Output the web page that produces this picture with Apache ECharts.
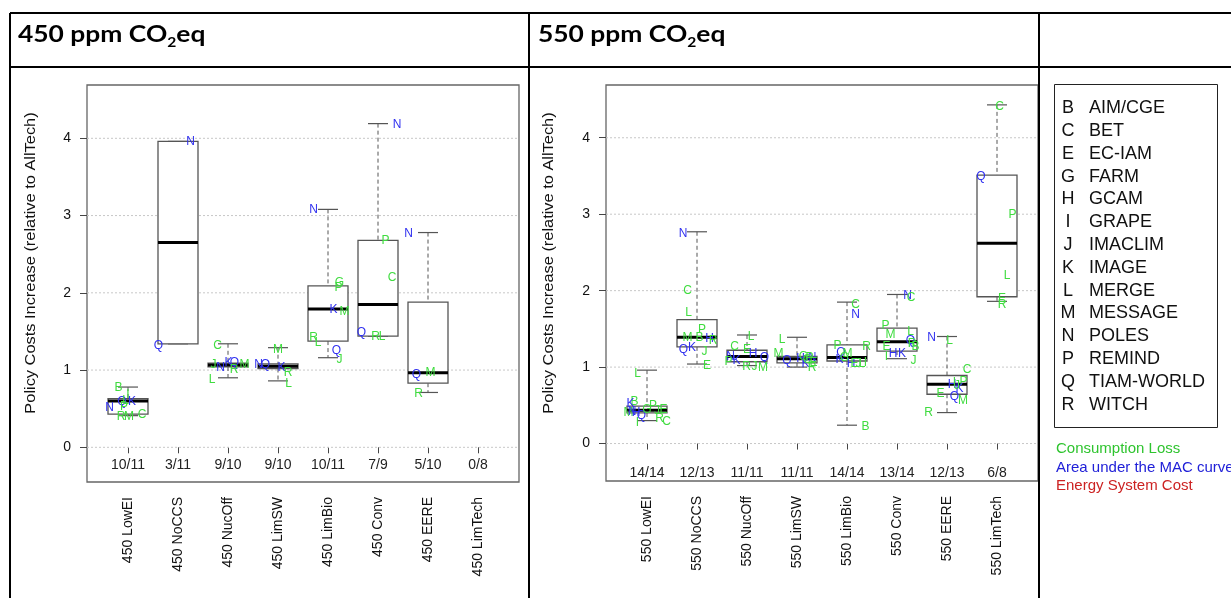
<!DOCTYPE html>
<html>
<head>
<meta charset="utf-8">
<title>Policy costs boxplots</title>
<script src="https://cdn.jsdelivr.net/npm/echarts@6.0.0/dist/echarts.min.js"></script>
<style>
html, body { margin: 0; padding: 0; background: #fff; }
#main { width: 1231px; height: 598px; }
</style>
</head>
<body>
<div id="main"></div>
<script>
// scenario names and "valid/total" counts
var cats450 = ['450 LowEI', '450 NoCCS', '450 NucOff', '450 LimSW', '450 LimBio', '450 Conv', '450 EERE', '450 LimTech'];
var counts450 = ['10/11', '3/11', '9/10', '9/10', '10/11', '7/9', '5/10', '0/8'];
var cats550 = ['550 LowEI', '550 NoCCS', '550 NucOff', '550 LimSW', '550 LimBio', '550 Conv', '550 EERE', '550 LimTech'];
var counts550 = ['14/14', '12/13', '11/11', '11/11', '14/14', '13/14', '12/13', '6/8'];

// box stats: [low whisker, q1, median, q3, high whisker]
var box450 = [
  [0.41, 0.43, 0.60, 0.63, 0.78],
  [1.34, 1.34, 2.65, 3.96, 3.96],
  [0.90, 1.04, 1.065, 1.09, 1.34],
  [0.86, 1.02, 1.05, 1.08, 1.29],
  [1.16, 1.375, 1.79, 2.09, 3.08],
  [1.44, 1.44, 1.85, 2.68, 4.19],
  [0.71, 0.83, 0.965, 1.88, 2.78],
  null
];
var box550 = [
  [0.30, 0.40, 0.435, 0.49, 0.96],
  [1.04, 1.265, 1.39, 1.62, 2.77],
  [1.02, 1.07, 1.14, 1.22, 1.42],
  [1.00, 1.055, 1.11, 1.14, 1.39],
  [0.24, 1.08, 1.125, 1.29, 1.85],
  [1.11, 1.21, 1.33, 1.51, 1.95],
  [0.405, 0.645, 0.775, 0.89, 1.40],
  [1.86, 1.92, 2.62, 3.51, 4.43]
];

// model results: [scenario no, horizontal offset, value, model letter]
var pts450 = [
  [1, -0.19, 0.77, 'B'], [1, 0.0, 0.68, 'I'], [1, -0.12, 0.59, 'Q'], [1, 0.08, 0.59, 'K'], [1, -0.08, 0.53, 'P'],
  [1, -0.37, 0.51, 'N'], [1, -0.14, 0.40, 'R'], [1, 0.02, 0.40, 'M'], [1, 0.28, 0.42, 'C'], [1, -0.05, 0.61, 'L'],
  [2, 0.25, 3.95, 'N'], [2, -0.39, 1.31, 'Q'],
  [3, -0.21, 1.31, 'C'], [3, -0.29, 1.065, 'J'], [3, -0.15, 1.03, 'N'], [3, 0.01, 1.10, 'K'], [3, 0.13, 1.10, 'Q'],
  [3, 0.12, 1.0, 'R'], [3, 0.33, 1.065, 'M'], [3, -0.32, 0.88, 'L'],
  [4, 0.0, 1.26, 'M'], [4, -0.39, 1.065, 'N'], [4, -0.25, 1.065, 'Q'], [4, 0.07, 1.03, 'K'], [4, 0.2, 0.97, 'R'], [4, 0.21, 0.83, 'L'],
  [5, -0.29, 3.07, 'N'], [5, 0.23, 2.13, 'G'], [5, 0.21, 2.07, 'P'], [5, 0.11, 1.78, 'K'], [5, 0.33, 1.76, 'M'],
  [5, -0.29, 1.42, 'R'], [5, -0.2, 1.36, 'L'], [5, 0.17, 1.25, 'Q'], [5, 0.23, 1.13, 'J'],
  [6, 0.38, 4.17, 'N'], [6, 0.15, 2.67, 'P'], [6, 0.28, 2.19, 'C'], [6, -0.33, 1.49, 'Q'], [6, -0.05, 1.43, 'R'], [6, 0.08, 1.43, 'L'],
  [7, -0.39, 2.76, 'N'], [7, -0.23, 0.935, 'Q'], [7, 0.05, 0.97, 'M'], [7, -0.19, 0.69, 'R']
];
var pts550 = [
  [1, -0.19, 0.92, 'L'], [1, -0.25, 0.55, 'B'], [1, -0.33, 0.52, 'K'], [1, 0.12, 0.49, 'P'], [1, -0.37, 0.41, 'M'],
  [1, -0.3, 0.42, 'N'], [1, -0.22, 0.41, 'H'], [1, -0.11, 0.37, 'Q'], [1, -0.19, 0.27, 'I'], [1, 0.33, 0.44, 'E'],
  [1, 0.25, 0.33, 'R'], [1, 0.39, 0.28, 'C'], [1, 0.0, 0.44, 'G'], [1, 0.2, 0.43, 'J'],
  [2, -0.28, 2.74, 'N'], [2, -0.19, 2.0, 'C'], [2, -0.17, 1.71, 'L'], [2, 0.1, 1.49, 'P'], [2, -0.19, 1.39, 'M'],
  [2, 0.25, 1.37, 'H'], [2, 0.32, 1.34, 'R'], [2, -0.27, 1.23, 'Q'], [2, -0.1, 1.26, 'K'], [2, 0.15, 1.2, 'J'],
  [2, 0.2, 1.02, 'E'], [2, 0.05, 1.39, 'B'],
  [3, 0.08, 1.40, 'L'], [3, -0.25, 1.265, 'C'], [3, 0.0, 1.23, 'E'], [3, 0.12, 1.17, 'H'], [3, 0.35, 1.125, 'Q'],
  [3, -0.33, 1.14, 'N'], [3, -0.21, 1.09, 'K'], [3, -0.37, 1.07, 'P'], [3, -0.01, 1.0, 'R'], [3, 0.15, 1.01, 'J'], [3, 0.32, 0.99, 'M'],
  [4, -0.3, 1.36, 'L'], [4, -0.37, 1.17, 'M'], [4, -0.2, 1.08, 'Q'], [4, 0.07, 1.11, 'H'], [4, 0.13, 1.13, 'G'],
  [4, 0.3, 1.125, 'N'], [4, 0.17, 1.05, 'K'], [4, 0.3, 0.995, 'R'], [4, 0.2, 1.1, 'C'], [4, 0.25, 1.12, 'P'], [4, 0.33, 1.06, 'E'],
  [5, 0.17, 1.81, 'C'], [5, 0.17, 1.68, 'N'], [5, -0.19, 1.28, 'P'], [5, 0.39, 1.265, 'R'], [5, -0.12, 1.19, 'Q'],
  [5, 0.01, 1.18, 'M'], [5, -0.15, 1.10, 'K'], [5, 0.08, 1.05, 'H'], [5, 0.23, 1.05, 'J'], [5, 0.37, 1.06, 'I'],
  [5, 0.37, 0.22, 'B'], [5, 0.3, 1.05, 'L'], [5, 0.15, 1.05, 'E'], [5, -0.05, 1.12, 'G'],
  [6, 0.21, 1.94, 'N'], [6, 0.28, 1.91, 'C'], [6, -0.23, 1.54, 'P'], [6, -0.13, 1.42, 'M'], [6, 0.27, 1.46, 'L'],
  [6, 0.27, 1.35, 'Q'], [6, 0.37, 1.27, 'B'], [6, -0.21, 1.265, 'E'], [6, -0.08, 1.17, 'H'], [6, 0.1, 1.17, 'K'],
  [6, -0.21, 1.14, 'I'], [6, 0.33, 1.09, 'J'], [6, 0.3, 1.3, 'R'],
  [7, -0.31, 1.39, 'N'], [7, 0.05, 1.35, 'L'], [7, 0.4, 0.96, 'C'], [7, 0.33, 0.81, 'P'], [7, 0.1, 0.77, 'H'],
  [7, 0.25, 0.72, 'K'], [7, -0.13, 0.655, 'E'], [7, 0.15, 0.61, 'Q'], [7, 0.32, 0.56, 'M'], [7, -0.37, 0.40, 'R'],
  [7, 0.2, 0.76, 'J'], [7, 0.15, 0.79, 'I'],
  [8, 0.05, 4.41, 'C'], [8, -0.32, 3.49, 'Q'], [8, 0.31, 2.99, 'P'], [8, 0.2, 2.20, 'L'], [8, 0.1, 1.90, 'E'], [8, 0.1, 1.82, 'R']
];

var yTicks = [0, 1, 2, 3, 4];
var xTicks = [1, 2, 3, 4, 5, 6, 7, 8];

// model legend
var modelCodes = ['B', 'C', 'E', 'G', 'H', 'I', 'J', 'K', 'L', 'M', 'N', 'P', 'Q', 'R'];
var modelNames = ['AIM/CGE', 'BET', 'EC-IAM', 'FARM', 'GCAM', 'GRAPE', 'IMACLIM', 'IMAGE', 'MERGE', 'MESSAGE', 'POLES', 'REMIND', 'TIAM-WORLD', 'WITCH'];
// models reporting area under the MAC curve, the others report consumption loss
var macModels = ['H', 'K', 'N', 'Q'];
var costTypes = ['Consumption Loss', 'Area under the MAC curve', 'Energy System Cost'];
var costColors = ['#2fc42f', '#2020d8', '#cc2222'];

var GREEN = '#3fdc3f', BLUE = '#3030f0';
var FONT = '"Liberation Sans", Arial, sans-serif';
var Y_NAME = 'Policy Costs Increase (relative to AllTech)';

var chart = echarts.init(document.getElementById('main'));

function boxSeries(boxes, gi) {
  var data = [];
  boxes.forEach(function (b, i) {
    if (b) data.push([i + 1].concat(b));
  });
  return {
    type: 'custom', xAxisIndex: gi, yAxisIndex: gi, z: 3,
    encode: { x: 0, y: [1, 2, 3, 4, 5] },
    data: data,
    renderItem: function (params, api) {
      var x = api.value(0);
      var lo = api.coord([x, api.value(1)]);
      var q1 = api.coord([x, api.value(2)]);
      var md = api.coord([x, api.value(3)]);
      var q3 = api.coord([x, api.value(4)]);
      var hi = api.coord([x, api.value(5)]);
      var half = api.size([0.4, 0])[0];
      var cap = half / 2;
      var cx = lo[0];
      var dash = { stroke: '#555', lineWidth: 1, lineDash: [4, 3] };
      var solid = { stroke: '#555', lineWidth: 1.2 };
      return {
        type: 'group',
        children: [
          { type: 'line', shape: { x1: cx, y1: hi[1], x2: cx, y2: q3[1] }, style: dash },
          { type: 'line', shape: { x1: cx, y1: q1[1], x2: cx, y2: lo[1] }, style: dash },
          { type: 'line', shape: { x1: cx - cap, y1: hi[1], x2: cx + cap, y2: hi[1] }, style: solid },
          { type: 'line', shape: { x1: cx - cap, y1: lo[1], x2: cx + cap, y2: lo[1] }, style: solid },
          { type: 'rect', shape: { x: cx - half, y: q3[1], width: 2 * half, height: q1[1] - q3[1] },
            style: { fill: '#fff', stroke: '#555', lineWidth: 1.3 } },
          { type: 'line', shape: { x1: cx - half, y1: md[1], x2: cx + half, y2: md[1] },
            style: { stroke: '#000', lineWidth: 3 } }
        ]
      };
    }
  };
}

function letterSeries(pts, gi) {
  return {
    type: 'custom', xAxisIndex: gi, yAxisIndex: gi, z: 4,
    encode: { x: 0, y: 1 },
    data: pts.map(function (p) { return [p[0] + p[1], p[2]]; }),
    renderItem: function (params, api) {
      var c = api.coord([api.value(0), api.value(1)]);
      var letter = pts[params.dataIndex][3];
      return {
        type: 'text', x: c[0], y: c[1],
        style: {
          text: letter, font: '12px ' + FONT, align: 'center', verticalAlign: 'middle',
          fill: macModels.indexOf(letter) >= 0 ? BLUE : GREEN
        }
      };
    }
  };
}

function countSeries(counts, yPos, gi) {
  return {
    type: 'custom', xAxisIndex: gi, yAxisIndex: gi, z: 4,
    encode: { x: 0, y: 1 },
    data: counts.map(function (c, i) { return [i + 1, yPos]; }),
    renderItem: function (params, api) {
      var c = api.coord([api.value(0), api.value(1)]);
      return {
        type: 'text', x: c[0], y: c[1],
        style: { text: counts[params.dataIndex], font: '14px ' + FONT, fill: '#222', align: 'center', verticalAlign: 'middle' }
      };
    }
  };
}

function gridLineSeries(gi) {
  return {
    type: 'custom', xAxisIndex: gi, yAxisIndex: gi, z: 1,
    encode: { y: 0 },
    data: yTicks.map(function (v) { return [v]; }),
    renderItem: function (params, api) {
      var cs = params.coordSys;
      var y = api.coord([1, api.value(0)])[1];
      return {
        type: 'line', shape: { x1: cs.x, y1: y, x2: cs.x + cs.width, y2: y },
        style: { stroke: '#c8c8c8', lineWidth: 1, lineDash: [2, 2] }
      };
    }
  };
}

function xAxisFor(cats, gi) {
  return {
    type: 'value', gridIndex: gi, min: 0.18, max: 8.82,
    axisLine: { show: false }, splitLine: { show: false },
    axisTick: { show: true, customValues: xTicks, length: 6, lineStyle: { color: '#444' } },
    axisLabel: {
      customValues: xTicks, rotate: 90, margin: 15, fontSize: 14, fontFamily: FONT, color: '#111',
      formatter: function (v) { return cats[Math.round(v) - 1]; }
    }
  };
}

function yAxisFor(min, gi) {
  return {
    type: 'value', gridIndex: gi, min: min, max: 4.69,
    axisLine: { show: false }, splitLine: { show: false },
    axisTick: { show: true, customValues: yTicks, length: 7, lineStyle: { color: '#444' } },
    axisLabel: { customValues: yTicks, margin: 16, fontSize: 14, fontFamily: FONT, color: '#111' }
  };
}

// table lines, headers, axis titles and the model legend
var graphics = [];
var lineStyle = { stroke: '#000', lineWidth: 2 };
[[10, 13, 1231, 13], [10, 67, 1231, 67], [10, 13, 10, 598], [529, 13, 529, 598], [1039, 13, 1039, 598]].forEach(function (l) {
  graphics.push({ type: 'line', shape: { x1: l[0], y1: l[1], x2: l[2], y2: l[3] }, style: lineStyle });
});
[['450', 18], ['550', 538]].forEach(function (h) {
  graphics.push({
    type: 'text', x: h[1], y: 49, scaleX: 1.2,
    style: {
      text: '{b|' + h[0] + ' ppm CO}{s|2}{b|eq}',
      verticalAlign: 'bottom',
      rich: {
        b: { fontSize: 22, lineHeight: 22, fontWeight: 'bold', fontFamily: 'Lato, sans-serif', fill: '#000', verticalAlign: 'top' },
        s: { fontSize: 13, lineHeight: 25, fontWeight: 'bold', fontFamily: 'Lato, sans-serif', fill: '#000', verticalAlign: 'bottom' }
      }
    }
  });
});
[31, 549].forEach(function (x) {
  graphics.push({
    type: 'text', x: x, y: 263, rotation: Math.PI / 2, scaleX: 1.17,
    style: { text: Y_NAME, font: '14px ' + FONT, fill: '#111', align: 'center', verticalAlign: 'middle' }
  });
});
graphics.push({ type: 'rect', shape: { x: 1054.5, y: 84.5, width: 163, height: 343 }, style: { fill: 'none', stroke: '#222', lineWidth: 1 } });
modelCodes.forEach(function (code, i) {
  var y = 108.3 + i * 22.8;
  graphics.push({ type: 'text', x: 1068, y: y, style: { text: code, font: '18px ' + FONT, fill: '#111', align: 'center', verticalAlign: 'middle' } });
  graphics.push({ type: 'text', x: 1089, y: y, style: { text: modelNames[i], font: '18px ' + FONT, fill: '#111', verticalAlign: 'middle' } });
});
costTypes.forEach(function (t, i) {
  graphics.push({ type: 'text', x: 1056, y: 449 + i * 18.5, style: { text: t, font: '15px ' + FONT, fill: costColors[i], verticalAlign: 'middle' } });
});

var option = {
  animation: false,
  backgroundColor: '#fff',
  grid: [
    { left: 87, top: 85, width: 432, height: 397, show: true, borderColor: '#666', borderWidth: 1.3, backgroundColor: 'transparent' },
    { left: 606, top: 85, width: 432, height: 396, show: true, borderColor: '#666', borderWidth: 1.3, backgroundColor: 'transparent' }
  ],
  xAxis: [xAxisFor(cats450, 0), xAxisFor(cats550, 1)],
  yAxis: [yAxisFor(-0.449, 0), yAxisFor(-0.49, 1)],
  series: [
    gridLineSeries(0), gridLineSeries(1),
    boxSeries(box450, 0), boxSeries(box550, 1),
    letterSeries(pts450, 0), letterSeries(pts550, 1),
    countSeries(counts450, -0.23, 0), countSeries(counts550, -0.39, 1)
  ],
  graphic: graphics
};

chart.setOption(option);
</script>
</body>
</html>
